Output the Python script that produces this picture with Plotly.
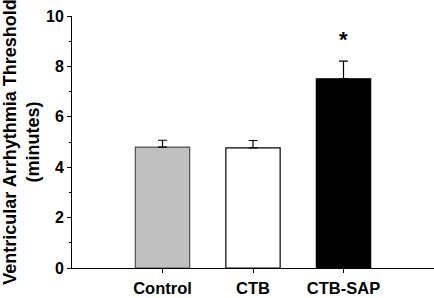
import plotly.graph_objects as go

categories = ["Control", "CTB", "CTB-SAP"]
values = [4.8, 4.77, 7.51]
errors = [0.27, 0.29, 0.7]
colors = ["#c0c0c0", "#ffffff", "#000000"]
line_colors = ["#505050", "#000000", "#000000"]
y_ticks = [0, 2, 4, 6, 8, 10]
sig_label = "*"
sig_y = 9.05

FONT = "Liberation Sans, Arial, sans-serif"

fig = go.Figure()
fig.add_trace(go.Bar(
    x=[0, 1, 2], y=values, width=0.6,
    marker=dict(color=colors, line=dict(color=line_colors, width=1.2)),
    error_y=dict(type="data", array=errors, arrayminus=[0, 0, 0], symmetric=False,
                 color="black", thickness=1.2, width=4.5),
    showlegend=False,
))
fig.add_annotation(x=2, y=sig_y, text=sig_label, showarrow=False,
                   font=dict(family=FONT, size=22, color="black", weight="bold"))

fig.update_layout(
    width=434, height=298,
    margin=dict(l=72, r=0, t=16, b=30, autoexpand=False),
    plot_bgcolor="white", paper_bgcolor="white",
    bargap=0.4,
    xaxis=dict(
        range=[-1, 3.0], tickmode="array", tickvals=[0, 1, 2], ticktext=categories,
        showline=True, linecolor="black", linewidth=1, ticks="outside", ticklen=4,
        tickcolor="black", showgrid=False, zeroline=False, automargin=False,
        ticklabelstandoff=1,
        tickfont=dict(family=FONT, size=16.5, color="black", weight="bold"),
    ),
    yaxis=dict(
        range=[0, 10], tickvals=y_ticks, showline=True, linecolor="black", linewidth=1,
        ticks="outside", ticklen=4, tickcolor="black", showgrid=False, zeroline=False,
        automargin=False,
        tickfont=dict(family=FONT, size=16, color="black", weight="bold"),
        minor=dict(ticks="outside", ticklen=2, dtick=1, tickcolor="black", showgrid=False),
        title=dict(text="Ventricular Arrhythmia Threshold<br>(minutes)", standoff=9,
                   font=dict(family=FONT, size=18, color="black", weight="bold")),
    ),
)
fig.write_html("out.html", config={"displayModeBar": False},
               post_script="document.body.style.margin='0';document.body.style.overflow='hidden';")
